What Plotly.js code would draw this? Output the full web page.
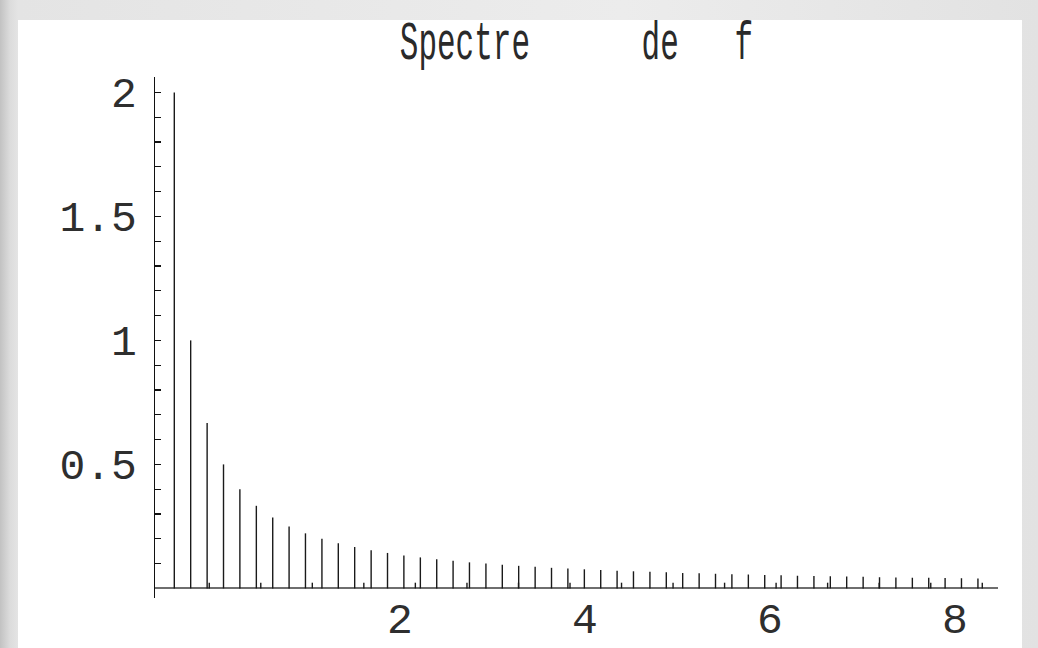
<!DOCTYPE html>
<html>
<head>
<meta charset="utf-8">
<script src="https://cdn.plot.ly/plotly-3.0.1.min.js"></script>
<style>
  html, body { margin: 0; padding: 0; width: 1038px; height: 648px; overflow: hidden; }
  #bg { position: absolute; left: 0; top: 0; width: 1038px; height: 648px;
        background: linear-gradient(to right, #c2c2c2 0px, #dcdcdc 10px, #e4e4e4 18px, #ececec 60%, #e2e2e2 100%); }
  #panel { position: absolute; left: 18px; top: 20px; width: 1004px; height: 628px; background: #ffffff; }
  #chart { position: absolute; left: 0; top: 0; width: 1038px; height: 648px; }
</style>
</head>
<body>
<div id="bg"></div>
<div id="panel"></div>
<div id="chart"></div>
<script>
// Main spectral lines (harmonics): positions and amplitudes
const harmonicX = [-0.440, -0.263, -0.085, 0.092, 0.269, 0.447, 0.624, 0.801, 0.978, 1.156,
                   1.333, 1.510, 1.688, 1.865, 2.042, 2.220, 2.397, 2.574, 2.751, 2.929,
                   3.106, 3.283, 3.461, 3.638, 3.815, 3.993, 4.170, 4.347, 4.524, 4.702,
                   4.879, 5.056, 5.234, 5.411, 5.588, 5.766, 5.943, 6.120, 6.297, 6.475,
                   6.652, 6.829, 7.007, 7.184, 7.361, 7.539, 7.716, 7.893, 8.070, 8.248];
const harmonicAmp = [2.000, 1.000, 0.667, 0.500, 0.400, 0.333, 0.286, 0.250, 0.222, 0.200,
                     0.182, 0.167, 0.154, 0.143, 0.133, 0.125, 0.118, 0.111, 0.105, 0.100,
                     0.095, 0.091, 0.087, 0.083, 0.080, 0.077, 0.074, 0.071, 0.069, 0.067,
                     0.065, 0.062, 0.061, 0.059, 0.057, 0.056, 0.054, 0.053, 0.051, 0.050,
                     0.049, 0.048, 0.047, 0.045, 0.044, 0.043, 0.043, 0.042, 0.041, 0.040];
// Small secondary lines
const smallX = [-0.062, 0.495, 1.052, 1.609, 2.166, 2.724, 3.281, 3.838,
                4.395, 4.952, 5.509, 6.066, 6.623, 7.180, 7.738, 8.295];
const smallAmp = [0.023, 0.023, 0.023, 0.023, 0.023, 0.023, 0.023, 0.023,
                  0.023, 0.023, 0.023, 0.023, 0.023, 0.023, 0.023, 0.023];

const xTickVals = [2, 4, 6, 8];
const xTickText = ['2', '4', '6', '8'];
const yTickVals = [0.1, 0.2, 0.3, 0.4, 0.5, 0.6, 0.7, 0.8, 0.9, 1.0,
                   1.1, 1.2, 1.3, 1.4, 1.5, 1.6, 1.7, 1.8, 1.9, 2.0];
const yTickText = ['', '', '', '', '0.5', '', '', '', '', '1',
                   '', '', '', '', '1.5', '', '', '', '', '2'];
const titleText = 'Spectre\u00a0\u00a0\u00a0\u00a0\u00a0\u00a0de\u00a0\u00a0\u00a0f';

function stems(xs, ys) {
  const sx = [], sy = [];
  for (let i = 0; i < xs.length; i++) {
    sx.push(xs[i], xs[i], null);
    sy.push(0, ys[i], null);
  }
  return { x: sx, y: sy };
}

const h = stems(harmonicX, harmonicAmp);
const s = stems(smallX, smallAmp);

const traces = [
  { x: h.x, y: h.y, type: 'scatter', mode: 'lines', line: { color: '#1a1a1a', width: 1.4 },
    hoverinfo: 'skip', showlegend: false },
  { x: s.x, y: s.y, type: 'scatter', mode: 'lines', line: { color: '#1a1a1a', width: 1.4 },
    hoverinfo: 'skip', showlegend: false }
];

const monoFont = { family: 'Liberation Mono, Courier New, monospace', size: 43, color: '#2e2e2e' };

const layout = {
  width: 1038, height: 648,
  margin: { l: 155, r: 40, t: 77, b: 50, pad: 0 },
  paper_bgcolor: 'rgba(0,0,0,0)',
  plot_bgcolor: 'rgba(0,0,0,0)',
  title: { text: titleText, font: { family: 'Liberation Mono, Courier New, monospace', size: 31, color: '#2a2a2a' },
           x: 0.5, xref: 'paper', xanchor: 'center', y: 0.94, yref: 'container', yanchor: 'middle' },
  xaxis: {
    range: [-0.6486, 8.4649], showgrid: false, zeroline: false, showline: false,
    ticks: '', tickvals: xTickVals, ticktext: xTickText, tickfont: monoFont,
    ticklabelstandoff: -9, fixedrange: true
  },
  yaxis: {
    range: [-0.0387, 2.062], showgrid: false,
    zeroline: true, zerolinecolor: '#6e6e6e', zerolinewidth: 2,
    showline: true, linecolor: '#111111', linewidth: 1.5,
    ticks: 'inside', ticklen: 6, tickwidth: 1.2, tickcolor: '#111111',
    tickvals: yTickVals, ticktext: yTickText, tickfont: monoFont,
    ticklabelstandoff: 8, fixedrange: true
  },
  showlegend: false
};

Plotly.newPlot('chart', traces, layout, { displayModeBar: false, staticPlot: true }).then(function (gd) {
  const t = gd.querySelector('.gtitle');
  if (t) {
    const base = parseFloat(t.getAttribute('y'));
    t.setAttribute('transform', 'translate(0,40) scale(1,1.75) translate(0,' + (-base) + ')');
  }
});
</script>
</body>
</html>
